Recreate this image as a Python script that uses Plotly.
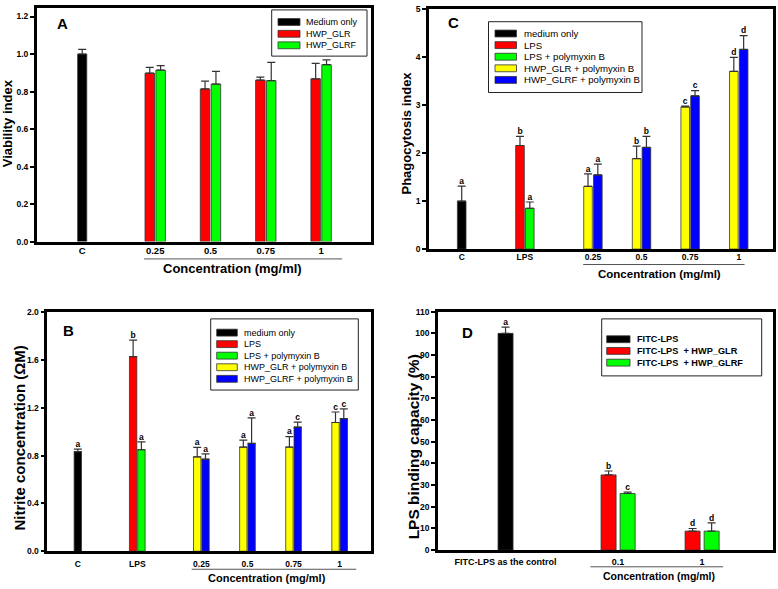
import plotly.graph_objects as go

W, H = 778, 589
FONT = "Arial, 'Liberation Sans', sans-serif"
EDGE = "#333333"

# ---------------- Panel A data ----------------
A_ticks = ["C", "0.25", "0.5", "0.75", "1"]
A_pos = [0.0, 1.32, 2.32, 3.32, 4.32]
A_medium = [1.0]
A_medium_err = [0.025]
A_glr = [0.898, 0.814, 0.861, 0.868]
A_glr_err = [0.031, 0.042, 0.016, 0.082]
A_glrf = [0.914, 0.840, 0.858, 0.943]
A_glrf_err = [0.024, 0.067, 0.097, 0.026]
A_legend = ["Medium only", "HWP_GLR", "HWP_GLRF"]

# ---------------- Panel C data ----------------
C_ticks = ["C", "LPS", "0.25", "0.5", "0.75", "1"]
C_pos = [0.0, 1.3, 2.7, 3.7, 4.7, 5.7]
C_medium = [1.0]
C_medium_err = [0.31]
C_medium_lbl = ["a"]
C_lps = [2.157]
C_lps_err = [0.19]
C_lps_lbl = ["b"]
C_lps_pmb = [0.85]
C_lps_pmb_err = [0.13]
C_lps_pmb_lbl = ["a"]
C_glr = [1.306, 1.884, 2.959, 3.70]
C_glr_err = [0.26, 0.26, 0.02, 0.29]
C_glr_lbl = ["a", "b", "c", "d"]
C_glrf = [1.544, 2.116, 3.19, 4.156]
C_glrf_err = [0.225, 0.23, 0.11, 0.29]
C_glrf_lbl = ["a", "b", "c", "d"]

# ---------------- Panel B data ----------------
B_ticks = ["C", "LPS", "0.25", "0.5", "0.75", "1"]
B_pos = [0.0, 1.29, 2.68, 3.68, 4.68, 5.68]
B_medium = [0.834]
B_medium_err = [0.022]
B_medium_lbl = ["a"]
B_lps = [1.63]
B_lps_err = [0.137]
B_lps_lbl = ["b"]
B_lps_pmb = [0.85]
B_lps_pmb_err = [0.066]
B_lps_pmb_lbl = ["a"]
B_glr = [0.790, 0.872, 0.872, 1.078]
B_glr_err = [0.08, 0.058, 0.088, 0.088]
B_glr_lbl = ["a", "a", "a", "c"]
B_glrf = [0.771, 0.903, 1.040, 1.111]
B_glrf_err = [0.044, 0.214, 0.041, 0.082]
B_glrf_lbl = ["a", "a", "c", "c"]

BC_legend = ["medium only", "LPS", "LPS + polymyxin B",
             "HWP_GLR + polymyxin B", "HWP_GLRF + polymyxin B"]

# ---------------- Panel D data ----------------
D_ticks = ["FITC-LPS as the control", "0.1", "1"]
D_pos = [0.0, 1.34, 2.34]
D_fitc = [100.0]
D_fitc_err = [2.9]
D_fitc_lbl = ["a"]
D_glr = [34.7, 8.75]
D_glr_err = [1.8, 1.2]
D_glr_lbl = ["b", "d"]
D_glrf = [26.1, 8.75]
D_glrf_err = [0.6, 3.8]
D_glrf_lbl = ["c", "d"]
D_legend = ["FITC-LPS", "FITC-LPS\u00a0\u00a0+ HWP_GLR", "FITC-LPS\u00a0\u00a0+ HWP_GLRF"]

BLACK, RED, GREEN, YELLOW, BLUE = "#000000", "#ff0000", "#00ff00", "#ffff00", "#0000ff"

fig = go.Figure()


def add_bars(xs, vals, errs, color, w, off, xa, ya, labels=None, lsize=8.5):
    n = len(vals)
    fig.add_trace(go.Bar(
        x=xs, y=vals, width=[w] * n, offset=[off] * n,
        marker=dict(color=color, line=dict(color=EDGE, width=0.8)),
        error_y=dict(type="data", symmetric=False, array=errs, arrayminus=[0] * n,
                     color=EDGE, thickness=1.2, width=4),
        xaxis=xa, yaxis=ya, showlegend=False, hoverinfo="skip"))
    if labels:
        fig.add_trace(go.Scatter(
            x=[x + off + w / 2 for x in xs], y=[v + e for v, e in zip(vals, errs)],
            mode="text", text=labels, textposition="top center",
            textfont=dict(family=FONT, size=lsize, color="black", weight="bold"),
            xaxis=xa, yaxis=ya, showlegend=False, hoverinfo="skip", cliponaxis=False))


# Panel A (x, y)
wA, gA = 0.172, 0.025
add_bars(A_pos[:1], A_medium, A_medium_err, BLACK, 0.165, -0.0825, "x", "y")
add_bars(A_pos[1:], A_glr, A_glr_err, RED, wA, -wA - gA / 2, "x", "y")
add_bars(A_pos[1:], A_glrf, A_glrf_err, GREEN, wA, gA / 2, "x", "y")

# Panel C (x2, y2)
wC, gC = 0.177, 0.025
add_bars(C_pos[:1], C_medium, C_medium_err, BLACK, wC, -wC / 2, "x2", "y2", C_medium_lbl)
add_bars(C_pos[1:2], C_lps, C_lps_err, RED, wC, -wC - gC / 2, "x2", "y2", C_lps_lbl)
add_bars(C_pos[1:2], C_lps_pmb, C_lps_pmb_err, GREEN, wC, gC / 2, "x2", "y2", C_lps_pmb_lbl)
add_bars(C_pos[2:], C_glr, C_glr_err, YELLOW, wC, -wC - gC / 2, "x2", "y2", C_glr_lbl)
add_bars(C_pos[2:], C_glrf, C_glrf_err, BLUE, wC, gC / 2, "x2", "y2", C_glrf_lbl)

# Panel B (x3, y3)
wB, gB = 0.16, 0.02
add_bars(B_pos[:1], B_medium, B_medium_err, BLACK, wB, -wB / 2, "x3", "y3", B_medium_lbl)
add_bars(B_pos[1:2], B_lps, B_lps_err, RED, wB, -wB - gB / 2, "x3", "y3", B_lps_lbl)
add_bars(B_pos[1:2], B_lps_pmb, B_lps_pmb_err, GREEN, wB, gB / 2, "x3", "y3", B_lps_pmb_lbl)
add_bars(B_pos[2:], B_glr, B_glr_err, YELLOW, wB, -wB - gB / 2, "x3", "y3", B_glr_lbl)
add_bars(B_pos[2:], B_glrf, B_glrf_err, BLUE, wB, gB / 2, "x3", "y3", B_glrf_lbl)

# Panel D (x4, y4)
wD, gD = 0.179, 0.048
add_bars(D_pos[:1], D_fitc, D_fitc_err, BLACK, wD, -wD / 2, "x4", "y4", D_fitc_lbl)
add_bars(D_pos[1:], D_glr, D_glr_err, RED, wD, -wD - gD / 2, "x4", "y4", D_glr_lbl)
add_bars(D_pos[1:], D_glrf, D_glrf_err, GREEN, wD, gD / 2, "x4", "y4", D_glrf_lbl)


def px(x):
    return x / W


def py(y):
    return 1 - y / H


def xaxis(dom, rng, pos, txt, size, standoff):
    return dict(domain=[px(dom[0]), px(dom[1])], range=rng, tickvals=pos, ticktext=txt,
                showline=True, mirror=True, linewidth=2.5, linecolor="black",
                ticks="", ticklen=0, showgrid=False, zeroline=False, ticklabelstandoff=standoff,
                tickfont=dict(family=FONT, size=size, color="black", weight="bold"))


def yaxis(dom, rng, dtick, fmt, size, anchor):
    return dict(domain=[py(dom[1]), py(dom[0])], range=rng, dtick=dtick, tick0=0,
                tickformat=fmt, showline=True, mirror=True, linewidth=2.5, linecolor="black",
                ticks="outside", ticklen=4, tickwidth=1.5, tickcolor="black",
                showgrid=False, zeroline=False, anchor=anchor,
                tickfont=dict(family=FONT, size=size, color="black", weight="bold"))


fig.update_layout(
    width=W, height=H, margin=dict(l=0, r=0, t=0, b=0),
    paper_bgcolor="white", plot_bgcolor="white", barmode="overlay", showlegend=False,
    xaxis=xaxis((36.7, 370.7), [-0.823, 5.217], A_pos, A_ticks, 9.5, -2),
    yaxis=yaxis((3.5, 240.7), [0, 1.243], 0.2, ".1f", 8.5, "x"),
    xaxis2=xaxis((429, 773), [-0.673, 6.405], C_pos, C_ticks, 8.5, -2),
    yaxis2=yaxis((4, 248.3), [0, 5], 1, "d", 8.5, "x2"),
    xaxis3=xaxis((47.3, 371), [-0.662, 6.36], B_pos, B_ticks, 8.5, 3),
    yaxis3=yaxis((312.7, 555.7), [0, 2], 0.4, ".1f", 8.5, "x3"),
    xaxis4=xaxis((438, 773), [-0.804, 3.184], D_pos, D_ticks, 9, 1),
    yaxis4=yaxis((312, 554.5), [0, 110], 10, "d", 8.5, "x4"),
)
fig.update_layout(xaxis=dict(anchor="y"), xaxis2=dict(anchor="y2"),
                  xaxis3=dict(anchor="y3"), xaxis4=dict(anchor="y4"))

shapes, annos = [], []


def text(x, y, s, size, bold=True, angle=0, xanchor="center"):
    annos.append(dict(x=px(x), y=py(y), xref="paper", yref="paper", text=s, showarrow=False,
                      textangle=angle, xanchor=xanchor, yanchor="middle",
                      font=dict(family=FONT, size=size, color="black",
                                weight="bold" if bold else "normal")))


# panel letters
text(63, 19, "A", 15)
text(453, 18, "C", 15)
text(68, 331, "B", 15)
text(467, 333, "D", 15)

# y titles
text(8.3, 120, "Viability index", 13, angle=-90)
text(406.7, 130, "Phagocytosis index", 13, angle=-90)
text(20, 441, "Nitrite concentration (ΩM)", 15, angle=-90)
text(413, 450, "LPS binding capacity (%)", 15.5, angle=-90)

# concentration titles + underline
text(232, 268.3, "Concentration (mg/ml)", 13)
text(659, 274, "Concentration (mg/ml)", 11.5)
text(266.7, 583.3, "Concentration (mg/ml)", 11)
text(659, 580.5, "Concentration (mg/ml)", 10.5)


def underline(xa, x0, x1, ypx):
    shapes.append(dict(type="line", xref=xa, yref="paper", x0=x0, x1=x1,
                       y0=py(ypx), y1=py(ypx), line=dict(color="#555555", width=1)))


underline("x", A_pos[1] - 0.2, A_pos[-1] + 0.38, 258.3)
underline("x2", C_pos[2] - 0.2, C_pos[-1] + 0.12, 264)
underline("x3", B_pos[2] - 0.21, B_pos[-1] + 0.36, 574)
underline("x4", D_pos[1] - 0.33, D_pos[-1] + 0.25, 571.5)


def legend(box, sw_x, text_x, rows, labels, colors, size, bold, sw_h=7):
    shapes.append(dict(type="rect", xref="paper", yref="paper",
                       x0=px(box[0]), x1=px(box[2]), y0=py(box[3]), y1=py(box[1]),
                       line=dict(color="#222222", width=1), fillcolor="white", layer="above"))
    for r, lab, col in zip(rows, labels, colors):
        shapes.append(dict(type="rect", xref="paper", yref="paper",
                           x0=px(sw_x[0]), x1=px(sw_x[1]), y0=py(r + sw_h / 2), y1=py(r - sw_h / 2),
                           line=dict(color=EDGE, width=0.8), fillcolor=col, layer="above"))
        text(text_x, r, lab, size, bold=bold, xanchor="left")


legend((271.7, 5, 367, 52), (278, 300), 304, [17.3, 29.3, 41], A_legend,
       [BLACK, RED, GREEN], 9, False)
legend((488.5, 17, 642, 89), (495, 516.5), 521.5, [29, 40.8, 52.6, 64.4, 76.2], BC_legend,
       [BLACK, RED, GREEN, YELLOW, BLUE], 9.6, False)
legend((210.7, 319.3, 358.3, 391.7), (216.7, 237.3), 242, [333.3, 345, 356.7, 368.5, 380.3],
       BC_legend, [BLACK, RED, GREEN, YELLOW, BLUE], 9, False)
legend((601.7, 319.3, 761.7, 377.3), (606.7, 630), 635, [340, 351.9, 363.8], D_legend,
       [BLACK, RED, GREEN], 9.2, True)

fig.update_layout(shapes=shapes, annotations=annos)
fig.write_html("out.html", config={"displayModeBar": False},
               post_script="document.body.style.margin='0';")
